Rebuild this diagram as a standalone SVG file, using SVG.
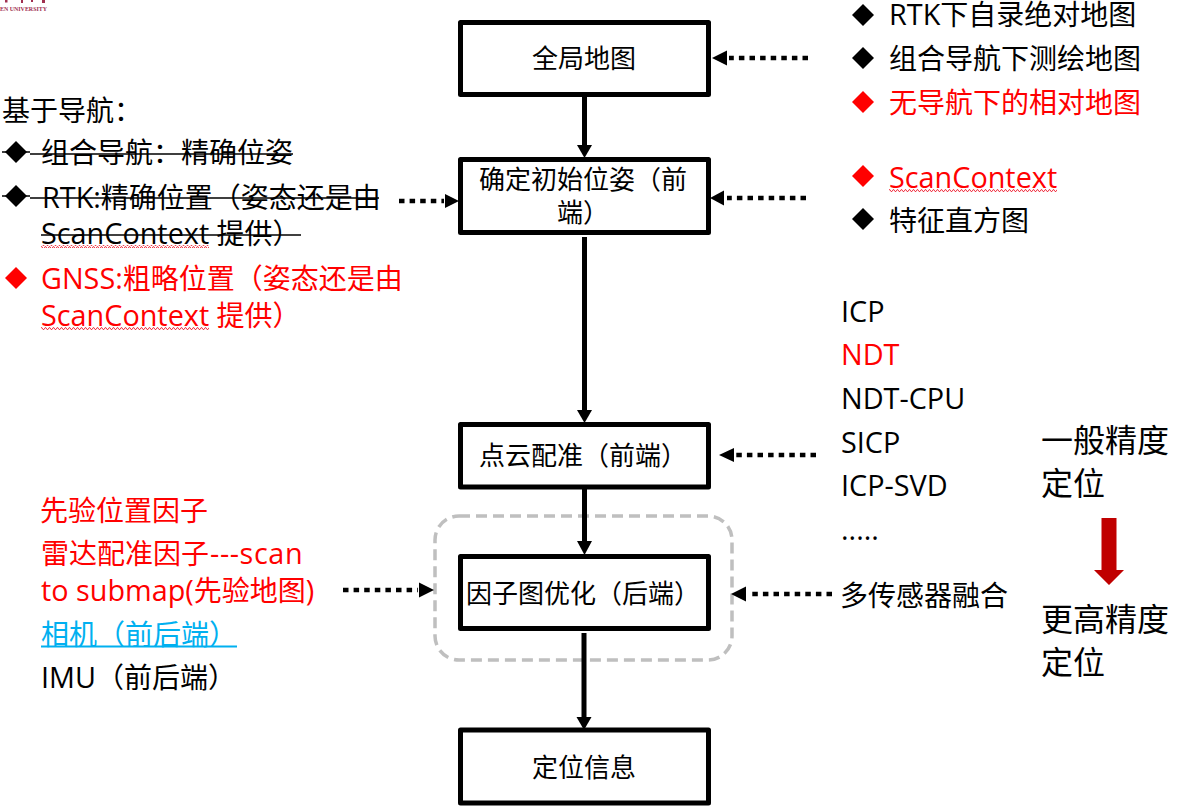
<svg xmlns="http://www.w3.org/2000/svg" width="1202" height="812" viewBox="0 0 1202 812">
<style>
text{font-family:"Open Sans","Noto Sans CJK SC",sans-serif;font-size:28px;fill:#000}
.n{font-size:26px}
.l{font-size:28.800px}
.r{fill:#f00}
.b{fill:#00b0f0}
.big{font-size:32px}
.box{fill:#fff;stroke:#000;stroke-width:5;stroke-linejoin:round}
.solid{stroke:#000;stroke-width:5;fill:none}
.dot{stroke:#000;stroke-width:4.500;fill:none;stroke-dasharray:5.500 5.100}
.strike{stroke:#000;stroke-width:1.500;fill:none}
.dk{fill:#000}.dr{fill:#f00}
</style>
<defs>
<polygon id="dia" points="0,-11 11,0 0,11 -11,0"/>
<pattern id="wave" width="4" height="3" patternUnits="userSpaceOnUse"><path d="M0 2.500L1 .7L2 .7L3 2.500L4 2.500" fill="none" stroke="#f03a4a" stroke-width="1"/></pattern>
</defs>
<g id="logo">
<text x="0" y="11" textLength="47" lengthAdjust="spacingAndGlyphs" style="font-family:'Liberation Serif',serif;font-size:6px;font-weight:bold;fill:#a03050">EN UNIVERSITY</text>
<path d="M5 0h2.500v2.500h-2.500zM21 0h2v3h-2zM31 0h2v2h-2zM42 0h3v3h-3z" fill="#a03050"/>
</g>
<rect id="dashed-group" x="435" y="516" width="297" height="144" rx="24" fill="none" stroke="#bfbfbf" stroke-width="3.500" stroke-dasharray="11 6"/>
<g id="connectors">
<path class="solid" d="M584.500 97V146M584.500 237V411M584.500 489V542M584 633V717"/>
<polygon points="577,145 592,145 584.500,158"/>
<polygon points="577,410 592,410 584.500,423"/>
<polygon points="577,541 592,541 584.500,555"/>
<polygon points="576.500,717 591.500,717 584,730"/>
<path class="dot" d="M808 58H729"/><polygon points="712,58 727,50.500 727,65.500"/>
<path class="dot" d="M806 198H727"/><polygon points="710,198 724,190.500 724,205.500"/>
<path class="dot" d="M399 201H444"/><polygon points="459,201 445,194 445,208"/>
<path class="dot" d="M816 455H736"/><polygon points="719,455 734,448 734,462"/>
<path class="dot" d="M343 590H418"/><polygon points="434,590 419,582.500 419,597.500"/>
<path class="dot" d="M832 594H748"/><polygon points="731,594 746,586.500 746,601.500"/>
</g>
<g id="node-map"><rect class="box" x="460.500" y="22.500" width="248" height="72"/><text class="n" x="584" y="68" text-anchor="middle">全局地图</text></g>
<g id="node-init"><rect class="box" x="460.500" y="159.500" width="248" height="73"/><text class="n" x="479" y="189">确定初始位姿（前</text><text class="n" x="583" y="222" text-anchor="middle">端）</text></g>
<g id="node-reg"><rect class="box" x="460.500" y="424.500" width="248" height="62.500"/><text class="n" x="479" y="465">点云配准（前端）</text></g>
<g id="node-opt"><rect class="box" x="460.500" y="556.500" width="248" height="72"/><text class="n" x="466" y="603">因子图优化（后端）</text></g>
<g id="node-loc"><rect class="box" x="460.500" y="730" width="248" height="73"/><text class="n" x="584" y="777" text-anchor="middle">定位信息</text></g>
<g id="left-top">
<text x="2" y="121">基于导航：</text>
<use href="#dia" class="dk" x="16" y="152"/><text x="41" y="163">组合导航：精确位姿</text>
<path class="strike" d="M2 152H30M30 154H293"/>
<use href="#dia" class="dk" x="16" y="196"/><text x="42" y="208"><tspan class="l">RTK:</tspan>精确位置（姿态还是由</text>
<path class="strike" d="M2 196H30M30 198H379"/>
<text x="41" y="244"><tspan class="l">ScanContext</tspan> 提供）</text>
<path class="strike" d="M41 235H301"/>
<rect x="41" y="245" width="168" height="3" fill="url(#wave)"/>
<use href="#dia" class="dr" x="16" y="278"/><text class="r" x="41" y="289"><tspan class="l">GNSS:</tspan>粗略位置（姿态还是由</text>
<text class="r" x="41" y="326"><tspan class="l">ScanContext</tspan> 提供）</text>
<rect x="41" y="327" width="168" height="3" fill="url(#wave)"/>
</g>
<g id="left-bottom">
<text class="r" x="40" y="521">先验位置因子</text>
<text class="r" x="41" y="564">雷达配准因子<tspan class="l" dx="1" style="letter-spacing:.6px">---scan</tspan></text>
<text class="r" x="41" y="601"><tspan class="l">to submap(</tspan>先验地图<tspan class="l">)</tspan></text>
<text class="b" x="41" y="645">相机（前后端）</text>
<path d="M41 646.500H237" stroke="#00b0f0" stroke-width="1.800" fill="none"/>
<text x="41" y="688"><tspan class="l">IMU</tspan>（前后端）</text>
</g>
<g id="right-top">
<use href="#dia" class="dk" x="863" y="15"/><text x="889" y="25"><tspan class="l">RTK</tspan>下自录绝对地图</text>
<use href="#dia" class="dk" x="863" y="58"/><text x="889" y="69">组合导航下测绘地图</text>
<use href="#dia" class="dr" x="863" y="102"/><text class="r" x="889" y="113">无导航下的相对地图</text>
<use href="#dia" class="dr" x="863" y="176"/><text class="r l" x="889" y="188">ScanContext</text>
<rect x="889" y="189" width="168" height="3" fill="url(#wave)"/>
<use href="#dia" class="dk" x="863" y="219"/><text x="889" y="231">特征直方图</text>
</g>
<g id="right-list">
<text class="l" x="841" y="322">ICP</text>
<text class="r l" x="841" y="365">NDT</text>
<text class="l" x="841" y="409">NDT-CPU</text>
<text class="l" x="841" y="453">SICP</text>
<text class="l" x="841" y="496">ICP-SVD</text>
<text class="l" x="841" y="540">.....</text>
<text x="840" y="606">多传感器融合</text>
</g>
<g id="accuracy">
<text class="big" x="1041" y="452">一般精度</text>
<text class="big" x="1041" y="495">定位</text>
<polygon points="1101.500,518 1116.500,518 1116.500,570 1124,570 1109,585 1094,570 1101.500,570" fill="#c00000"/>
<text class="big" x="1041" y="631">更高精度</text>
<text class="big" x="1041" y="674">定位</text>
</g>
</svg>
